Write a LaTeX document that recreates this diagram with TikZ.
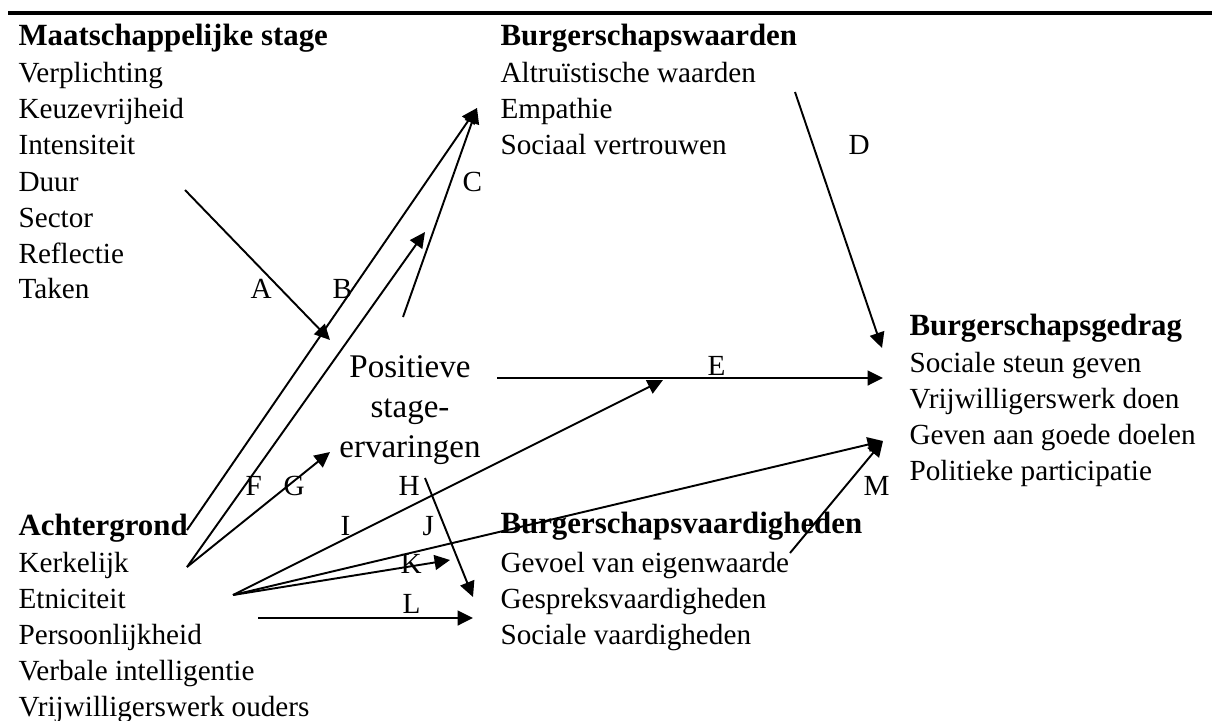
\documentclass[tikz,border=0pt]{standalone}
\usepackage{fontspec}
\setmainfont{Liberation Serif}
\usetikzlibrary{arrows.meta}

\begin{document}
\begin{tikzpicture}[
  x=0.363pt, y=-0.363pt,
  item/.style={anchor=base west, inner sep=0pt, font=\fontsize{10.6}{12}\selectfont},
  head/.style={item, font=\fontsize{11.2}{13}\selectfont\bfseries},
  mid/.style={anchor=base, inner sep=0pt, font=\fontsize{12}{14}\selectfont},
  lbl/.style={item},
  arr/.style={-{Triangle[length=5.6pt, width=5.4pt]}, line width=0.7pt}
]
\useasboundingbox (0,0) rectangle (1212,720);
\coordinate (ruleL) at (8,13);
\coordinate (ruleR) at (1212,13);
\draw[line width=1.1pt] (ruleL) -- (ruleR);

\node[head] (stage) at (18,45)  {Maatschappelijke stage};
\node[item] (verpl) at (18,82)  {Verplichting};
\node[item] (keuze) at (18,118) {Keuzevrijheid};
\node[item] (inten) at (18,154) {Intensiteit};
\node[item] (duur)  at (18,191) {Duur};
\node[item] (sect)  at (18,227) {Sector};
\node[item] (refl)  at (18,263) {Reflectie};
\node[item] (taken) at (18,298) {Taken};

\node[head] (achter) at (18,535) {Achtergrond};
\node[item] (kerk)   at (18,572) {Kerkelijk};
\node[item] (etni)   at (18,608) {Etniciteit};
\node[item] (pers)   at (18,644) {Persoonlijkheid};
\node[item] (verb)   at (18,680) {Verbale intelligentie};
\node[item] (ouders) at (18,716) {Vrijwilligerswerk ouders};

\node[head] (waard) at (500,45)  {Burgerschapswaarden};
\node[item] (altr)  at (500,82)  {Altruïstische waarden};
\node[item] (empa)  at (500,118) {Empathie};
\node[item] (vertr) at (500,154) {Sociaal vertrouwen};

\node[head] (gedr)  at (909,335) {Burgerschapsgedrag};
\node[item] (steun) at (909,372) {Sociale steun geven};
\node[item] (vrijw) at (909,408) {Vrijwilligerswerk doen};
\node[item] (doel)  at (909,444) {Geven aan goede doelen};
\node[item] (polit) at (909,480) {Politieke participatie};

\node[head] (vaard) at (500,533) {Burgerschapsvaardigheden};
\node[item] (eigen) at (500,572) {Gevoel van eigenwaarde};
\node[item] (gespr) at (500,608) {Gespreksvaardigheden};
\node[item] (socv)  at (500,644) {Sociale vaardigheden};

\node[mid] (pos1) at (410,377) {Positieve};
\node[mid] (pos2) at (410,417) {stage-};
\node[mid] (pos3) at (410,457) {ervaringen};

\node[lbl] (lA) at (250,298) {A};
\node[lbl] (lB) at (332,298) {B};
\node[lbl] (lC) at (462,191) {C};
\node[lbl] (lD) at (848,154) {D};
\node[lbl] (lE) at (707,375) {E};
\node[lbl] (lF) at (245,495) {F};
\node[lbl] (lG) at (283,495) {G};
\node[lbl] (lH) at (398,495) {H};
\node[lbl] (lI) at (340,535) {I};
\node[lbl] (lJ) at (422,535) {J};
\node[lbl] (lK) at (400,573) {K};
\node[lbl] (lL) at (402,613) {L};
\node[lbl] (lM) at (863,495) {M};

\coordinate (stageOut) at (185,190);
\coordinate (posIn)    at (330,340);
\coordinate (achtOut)  at (187,530);
\coordinate (waardIn)  at (477,108);
\coordinate (posTop)   at (403,317);
\coordinate (waardOut) at (795,92);
\coordinate (gedrTop)  at (882,348);
\coordinate (posRight) at (497,378);
\coordinate (gedrIn)   at (883,378);
\coordinate (kerkOut)  at (187,567);
\coordinate (pathC)    at (425,232);
\coordinate (posLeft)  at (330,452);
\coordinate (posBot)   at (425,478);
\coordinate (vaardIn)  at (473,597);
\coordinate (etniOut)  at (233,595);
\coordinate (pathE)    at (663,380);
\coordinate (gedrLow)  at (883,441);
\coordinate (pathK)    at (450,560);
\coordinate (persOut)  at (258,618);
\coordinate (vaardLow) at (473,618);
\coordinate (eigenOut) at (790,553);

\draw[arr] (stageOut) -- (posIn);
\draw[arr] (achtOut)  -- (waardIn);
\draw[arr] (posTop)   -- (waardIn);
\draw[arr] (waardOut) -- (gedrTop);
\draw[arr] (posRight) -- (gedrIn);
\draw[arr] (kerkOut)  -- (pathC);
\draw[arr] (kerkOut)  -- (posLeft);
\draw[arr] (posBot)   -- (vaardIn);
\draw[arr] (etniOut)  -- (pathE);
\draw[arr] (etniOut)  -- (gedrLow);
\draw[arr] (etniOut)  -- (pathK);
\draw[arr] (persOut)  -- (vaardLow);
\draw[arr] (eigenOut) -- (gedrLow);
\end{tikzpicture}
\end{document}
